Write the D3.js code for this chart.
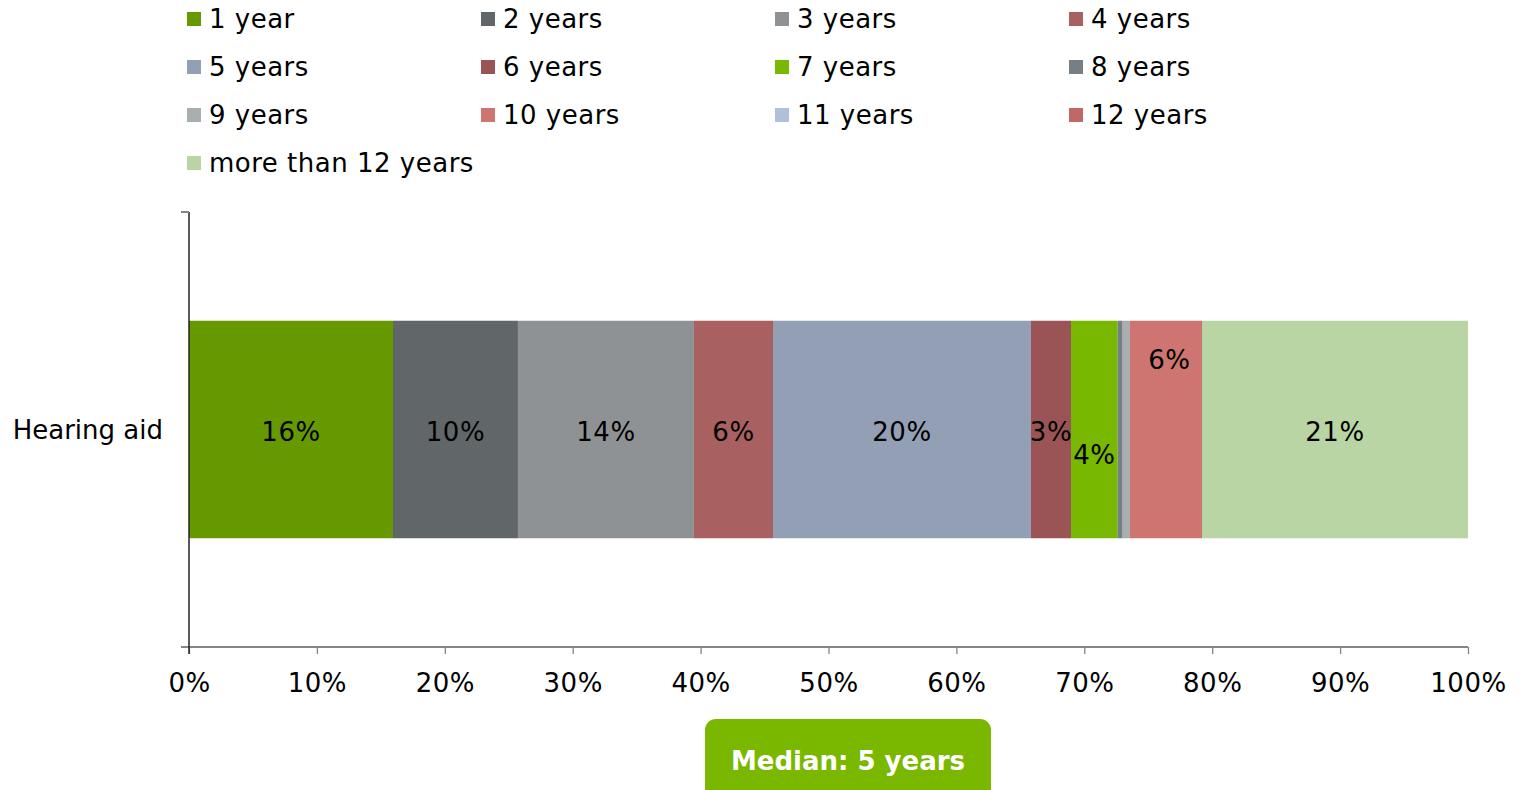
<!DOCTYPE html>
<html>
<head>
<meta charset="utf-8">
<script src="https://cdn.jsdelivr.net/npm/d3@7/dist/d3.min.js"></script>
<style>
  html, body { margin: 0; padding: 0; background: #fff; }
  svg { display: block; }
  text { font-family: "DejaVu Sans", Verdana, sans-serif; }
  .lbl { letter-spacing: 0.5px; }
</style>
</head>
<body>
<svg id="chart" width="1520" height="790"></svg>
<script>
// Share of devices by age, one stacked bar
const categories = ["Hearing aid"];
const seriesNames = ["1 year", "2 years", "3 years", "4 years", "5 years", "6 years",
  "7 years", "8 years", "9 years", "10 years", "11 years", "12 years", "more than 12 years"];
const seriesValues = [0.1595, 0.0977, 0.1376, 0.0618, 0.2017, 0.0313,
  0.0365, 0.0039, 0.0057, 0.0555, 0.0000, 0.0008, 0.2080];
const seriesColors = ["#669900", "#616769", "#8F9294", "#A86060", "#939FB5", "#9A5456",
  "#78B800", "#767E86", "#A9AEB0", "#CE7571", "#AFC0DB", "#C06868", "#B8D5A3"];
const tickValues = [0, 0.1, 0.2, 0.3, 0.4, 0.5, 0.6, 0.7, 0.8, 0.9, 1.0];
const medianText = "Median: 5 years";

const svg = d3.select("#chart");
const plot = { left: 189, right: 1468, top: 212, bottom: 647 };

const x = d3.scaleLinear().domain([0, 1]).range([plot.left, plot.right]);
const y = d3.scaleBand().domain(categories).range([plot.top, plot.bottom]).paddingInner(0.5).paddingOuter(0.25);
const color = d3.scaleOrdinal().domain(seriesNames).range(seriesColors);
const pct = d3.format(".0%");

// stacked rows
const row = { category: categories[0] };
seriesNames.forEach((s, i) => { row[s] = seriesValues[i]; });
const stacked = d3.stack().keys(seriesNames)([row]);

// legend: 4 columns
const legend = svg.append("g");
const legendItems = legend.selectAll("g").data(seriesNames).join("g")
  .attr("transform", (d, i) => `translate(${187 + (i % 4) * 294},${12 + Math.floor(i / 4) * 48})`);
legendItems.append("rect").attr("width", 14).attr("height", 14).attr("fill", d => color(d));
legendItems.append("text").attr("class", "lbl").attr("x", 22).attr("y", 16).attr("font-size", 26)
  .attr("fill", "#000").text(d => d);

// bars
const layers = svg.append("g").selectAll("g").data(stacked).join("g").attr("fill", d => color(d.key));
layers.selectAll("rect").data(d => d).join("rect")
  .attr("x", d => x(d[0]))
  .attr("y", d => y(d.data.category))
  .attr("width", d => x(d[1]) - x(d[0]))
  .attr("height", y.bandwidth());

// value labels (small slices unlabeled; crowded ones nudged off the centre line)
const labelShift = { "7 years": 23, "10 years": -72 };
const labelDx = { "10 years": 4 };
svg.append("g").selectAll("text")
  .data(stacked.filter(s => s[0].data[s.key] >= 0.01))
  .join("text")
  .attr("class", "lbl")
  .attr("x", s => (x(s[0][0]) + x(s[0][1])) / 2 + (labelDx[s.key] || 0))
  .attr("y", s => y(s[0].data.category) + y.bandwidth() / 2 + 2 + (labelShift[s.key] || 0))
  .attr("dy", "0.36em")
  .attr("text-anchor", "middle")
  .attr("font-size", 26)
  .attr("fill", "#000")
  .text(s => pct(s[0].data[s.key]));

// x axis
const xAxis = svg.append("g").attr("transform", `translate(0,${plot.bottom})`)
  .call(d3.axisBottom(x).tickValues(tickValues).tickFormat(pct).tickSize(7).tickSizeOuter(0));
xAxis.select(".domain").remove();
xAxis.append("line").attr("x1", plot.left - 8).attr("x2", plot.right).attr("stroke", "#868686").attr("stroke-width", 2);
xAxis.selectAll(".tick line").attr("stroke", "#868686").attr("stroke-width", 1.3);
xAxis.selectAll(".tick text").attr("class", "lbl").attr("font-size", 26).attr("fill", "#000")
  .attr("y", 27).attr("dy", "0.71em")
  .style("font-family", "'DejaVu Sans', Verdana, sans-serif");

// category axis
const yAxis = svg.append("g").attr("transform", `translate(${plot.left},0)`)
  .call(d3.axisLeft(y).tickSize(0).tickPadding(26));
yAxis.select(".domain").remove();
yAxis.selectAll(".tick text").attr("font-size", 26).attr("fill", "#000").attr("dy", "0.36em")
  .style("font-family", "'DejaVu Sans', Verdana, sans-serif");
yAxis.append("line").attr("x1", 0).attr("x2", 0).attr("y1", plot.top).attr("y2", plot.bottom + 7)
  .attr("stroke", "#222").attr("stroke-width", 1.5);
yAxis.append("line").attr("x1", -8).attr("x2", 0).attr("y1", plot.top).attr("y2", plot.top)
  .attr("stroke", "#868686").attr("stroke-width", 2);

// median badge
const badge = svg.append("g").attr("transform", "translate(705,719)");
badge.append("rect").attr("width", 286).attr("height", 90).attr("rx", 11).attr("fill", "#7AB800");
badge.append("text").attr("x", 143).attr("y", 51).attr("text-anchor", "middle")
  .attr("font-size", 26).attr("font-weight", "bold").attr("fill", "#fff").text(medianText);
</script>
</body>
</html>
